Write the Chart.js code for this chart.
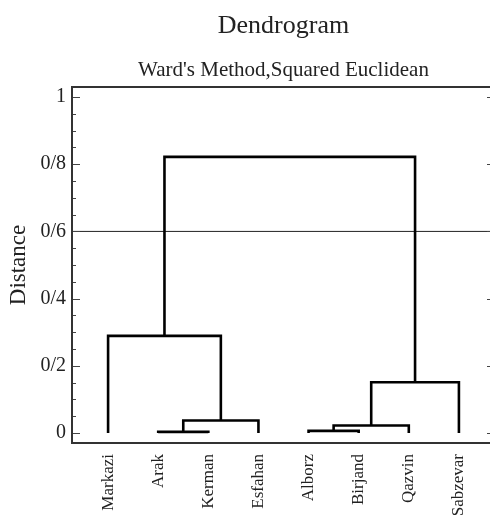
<!DOCTYPE html>
<html>
<head>
<meta charset="utf-8">
<script src="https://cdn.jsdelivr.net/npm/chart.js@4/dist/chart.umd.min.js"></script>
<style>
  html, body { margin: 0; padding: 0; background: #fff; overflow: hidden; }
  #wrap { width: 498px; height: 516px; }
</style>
</head>
<body>
<div id="wrap"><canvas id="dendro"></canvas></div>
<script>
// leaves in plotted order
const leafNames = ["Markazi", "Arak", "Kerman", "Esfahan", "Alborz", "Birjand", "Qazvin", "Sabzevar"];
// linkage: node 8+i joins mergeA[i] and mergeB[i] at mergeHeight[i]
const mergeA = [1, 4, 9, 8, 10, 0, 13];
const mergeB = [2, 5, 6, 3, 7, 11, 12];
const mergeHeight = [0.003, 0.006, 0.022, 0.037, 0.151, 0.289, 0.822];
const cutoff = 0.6;
const yTickValues = [0, 0.2, 0.4, 0.6, 0.8, 1];
const yTickLabels = ["0", "0/2", "0/4", "0/6", "0/8", "1"];

const serif = "'Liberation Serif', 'Times New Roman', serif";
const xMin = -0.72, xMax = 7.72;
const yMin = -0.03, yMax = 1.03;

// node positions: leaves at their index, clusters at the midpoint of children
const nodeX = leafNames.map((_, i) => i);
const nodeH = leafNames.map(() => 0);
const datasets = [];
mergeA.forEach((a, i) => {
    const b = mergeB[i];
    const h = mergeHeight[i];
    datasets.push({
        data: [
            {x: nodeX[a], y: nodeH[a]},
            {x: nodeX[a], y: h},
            {x: nodeX[b], y: h},
            {x: nodeX[b], y: nodeH[b]}
        ],
        borderColor: "#000",
        borderWidth: 2.6,
        borderJoinStyle: "miter",
        borderCapStyle: "butt"
    });
    nodeX.push((nodeX[a] + nodeX[b]) / 2);
    nodeH.push(h);
});
datasets.push({
    data: [{x: xMin, y: cutoff}, {x: xMax, y: cutoff}],
    borderColor: "#222",
    borderWidth: 1
});

// frame with inward tick marks, like the original plot
const framePlugin = {
    id: "frame",
    afterDatasetsDraw(chart) {
        const {ctx, chartArea: ca, scales} = chart;
        ctx.save();
        ctx.strokeStyle = "#444";
        ctx.lineWidth = 1.2;
        for (let k = 0; k <= 20; k++) {
            const v = k * 0.05;
            const py = Math.round(scales.y.getPixelForValue(v)) + 0.5;
            const len = (k % 4 === 0) ? 8 : 4;
            ctx.beginPath();
            ctx.moveTo(ca.left, py); ctx.lineTo(ca.left + len, py);
            ctx.moveTo(ca.right, py); ctx.lineTo(ca.right - len, py);
            ctx.stroke();
        }
        ctx.lineWidth = 2;
        ctx.strokeStyle = "#333";
        ctx.strokeRect(ca.left, ca.top, ca.right - ca.left, ca.bottom - ca.top);
        ctx.restore();
    }
};

const ctx = document.getElementById("dendro");
const chart = new Chart(ctx, {
    type: "scatter",
    data: { datasets: datasets },
    plugins: [framePlugin],
    options: {
        responsive: true,
        maintainAspectRatio: false,
        animation: false,
        showLine: true,
        elements: { point: { radius: 0, hoverRadius: 0 } },
        layout: { padding: { right: 3, left: 0, top: 0, bottom: 0 } },
        scales: {
            x: {
                type: "linear",
                min: xMin,
                max: xMax,
                afterBuildTicks: (scale) => { scale.ticks = leafNames.map((_, i) => ({value: i})); },
                afterFit: (scale) => { scale.height = 73; },
                grid: { display: false, drawTicks: false },
                border: { display: false },
                ticks: {
                    autoSkip: false,
                    minRotation: 90,
                    maxRotation: 90,
                    padding: 11,
                    color: "#222",
                    font: { family: serif, size: 17 },
                    callback: (v) => leafNames[v]
                }
            },
            y: {
                min: yMin,
                max: yMax,
                afterBuildTicks: (scale) => { scale.ticks = yTickValues.map(v => ({value: v})); },
                afterFit: (scale) => { scale.width = 72; },
                grid: { display: false, drawTicks: false },
                border: { display: false },
                ticks: {
                    padding: 6,
                    color: "#222",
                    font: { family: serif, size: 20 },
                    callback: (v) => yTickLabels[yTickValues.indexOf(v)]
                },
                title: {
                    display: true,
                    text: "Distance",
                    color: "#222",
                    font: { family: serif, size: 23 },
                    padding: { top: 5, bottom: 0 }
                }
            }
        },
        plugins: {
            legend: { display: false },
            tooltip: { enabled: false },
            title: {
                display: true,
                text: "Dendrogram",
                fullSize: false,
                color: "#222",
                font: { family: serif, size: 26, weight: "normal" },
                padding: { top: 11, bottom: 10 }
            },
            subtitle: {
                display: true,
                text: "Ward's Method,Squared Euclidean",
                fullSize: false,
                color: "#222",
                font: { family: serif, size: 21 },
                padding: { top: 6, bottom: 3.6 }
            }
        }
    }
});
</script>
</body>
</html>
